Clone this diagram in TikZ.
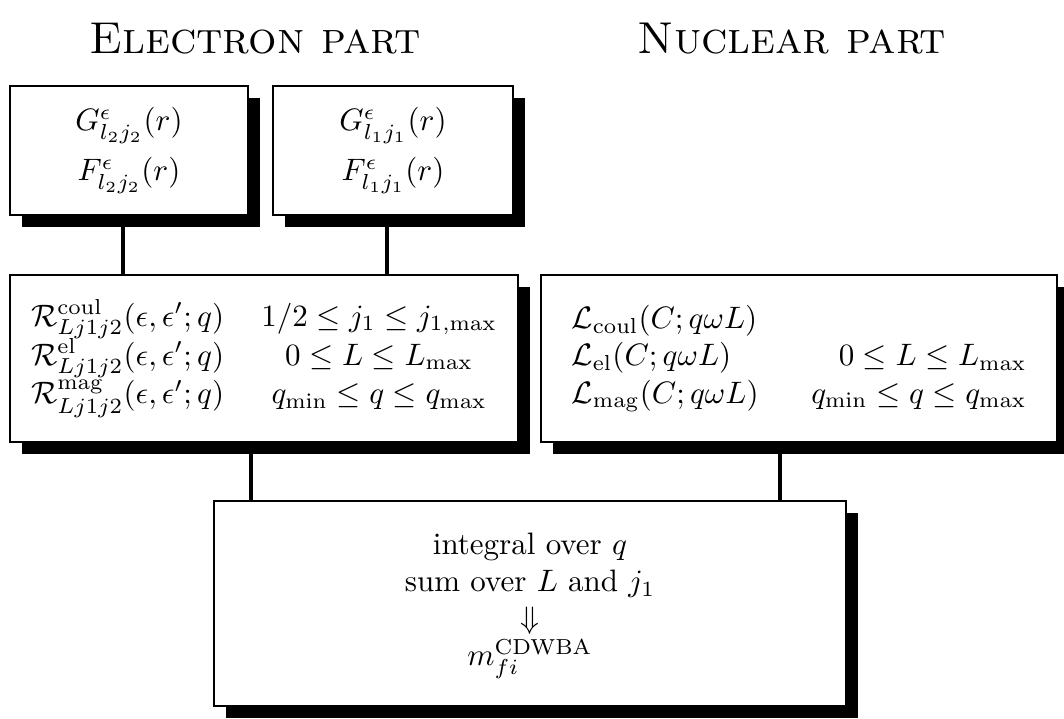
\documentclass[tikz,border=0pt]{standalone}
\usetikzlibrary{shadows}
\begin{document}
\begin{tikzpicture}[x=0.3226pt,y=-0.3226pt,
  box/.style={draw=black, line width=0.9pt, fill=white, align=center, inner sep=0pt,
    drop shadow={shadow xshift=3.8pt, shadow yshift=-3.8pt, fill=black, opacity=1}},
  link/.style={line width=1pt},
  title/.style={font=\Large\scshape, anchor=base}]
\useasboundingbox (0,0) rectangle (1064,719);
\node[title] (t1) at (255,54) {Electron part};
\node[title] (t2) at (792,54) {Nuclear part};
\node[box, minimum width=76.8pt, minimum height=41.6pt] (b1) at (129,150.5)
  {$G^{\epsilon}_{l_2j_2}(r)$\\[4pt] $F^{\epsilon}_{l_2j_2}(r)$};
\node[box, minimum width=77.4pt, minimum height=41.6pt] (b2) at (393,150.5)
  {$G^{\epsilon}_{l_1j_1}(r)$\\[4pt] $F^{\epsilon}_{l_1j_1}(r)$};
\node[box, minimum width=163.9pt, minimum height=53.9pt] (b3) at (264,358.5)
  {\raisebox{-2pt}{$\begin{array}{c@{\hspace{12pt}}c}
   \mathcal{R}^{\mathrm{coul}}_{Lj1j2}(\epsilon,\epsilon';q) & 1/2\le j_1\le j_{1,\max}\\
   \mathcal{R}^{\mathrm{el}}_{Lj1j2}(\epsilon,\epsilon';q) & 0\le L\le L_{\max}\\
   \mathcal{R}^{\mathrm{mag}}_{Lj1j2}(\epsilon,\epsilon';q) & q_{\min}\le q\le q_{\max}
   \end{array}$}};
\node[box, minimum width=166.5pt, minimum height=53.9pt] (b4) at (799,358.5)
  {\raisebox{-2pt}{$\begin{array}{l@{\hspace{17pt}}r}
   \mathcal{L}_{\mathrm{coul}}(C;q\omega L) & \\
   \mathcal{L}_{\mathrm{el}}(C;q\omega L) & 0\le L\le L_{\max}\\
   \mathcal{L}_{\mathrm{mag}}(C;q\omega L) & q_{\min}\le q\le q_{\max}
   \end{array}$}};
\node[box, minimum width=203.9pt, minimum height=66.1pt] (b5) at (530,603.5)
  {\raisebox{-1.6pt}{\begin{tabular}{@{}c@{}}integral over $q$\\ sum over $L$ and $j_1$\\ $\Downarrow$\\ $m_{fi}^{\mathrm{CDWBA}}$\end{tabular}}};
\draw[link] ([xshift=-1.94pt]b1.south) -- ([xshift=-1.94pt]b1.south |- b3.north);
\draw[link] ([xshift=-1.94pt]b2.south) -- ([xshift=-1.94pt]b2.south |- b3.north);
\draw[link] ([xshift=-4.19pt]b3.south) -- ([xshift=-4.19pt]b3.south |- b5.north);
\draw[link] ([xshift=-6.13pt]b4.south) -- ([xshift=-6.13pt]b4.south |- b5.north);
\end{tikzpicture}
\end{document}
